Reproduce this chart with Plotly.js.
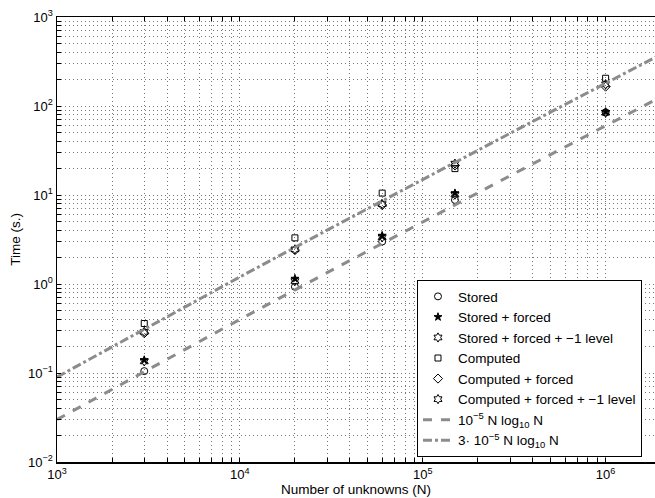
<!DOCTYPE html>
<html>
<head>
<meta charset="utf-8">
<script src="https://cdn.plot.ly/plotly-3.0.1.min.js"></script>
<style>html,body{margin:0;padding:0;background:#fff;}#chart{width:655px;height:498px;}</style>
</head>
<body>
<div id="chart"></div>
<script>
// Data
var N = [3000, 20000, 60000, 150000, 1000000];
var stored = [0.105, 0.93, 3.0, 8.8, 85];
var storedForced = [0.14, 1.15, 3.5, 10.5, 86];
var storedForcedLevel = [0.135, 1.08, 3.35, 10.1, 84];
var computed = [0.36, 3.3, 10.5, 19.8, 205];
var computedForced = [0.28, 2.4, 7.7, 21.5, 165];
var computedForcedLevel = [0.29, 2.45, 7.9, 22.5, 175];

// Reference curves (values of 1e-5 N log10 N and 3e-5 N log10 N)
var lineN = [1000, 3000, 10000, 30000, 100000, 300000, 1000000, 2000000];
var lowerLine = [0.03, 0.104, 0.4, 1.343, 5.0, 16.43, 60.0, 126.0];
var upperLine = [0.09, 0.313, 1.2, 4.03, 15.0, 49.3, 180.0, 378.0];

var seriesNames = ["Stored", "Stored + forced", "Stored + forced + \u22121 level",
  "Computed", "Computed + forced", "Computed + forced + \u22121 level",
  "10<sup>\u22125</sup> N log<sub>10</sub> N", "3\u00b7 10<sup>\u22125</sup> N log<sub>10</sub> N"];

var xDecades = [3, 4, 5, 6];
var yDecades = [-2, -1, 0, 1, 2, 3];

function logTicks(decs, maxv) {
  var vals = [], txt = [];
  decs.forEach(function (d) {
    for (var m = 1; m <= 9; m++) {
      var v = m * Math.pow(10, d);
      if (v > maxv) break;
      vals.push(v);
      txt.push(m === 1 ? "10<sup>" + (d < 0 ? "\u2212" + (-d) : d) + "</sup>" : "");
    }
  });
  return {vals: vals, txt: txt};
}
var xt = logTicks(xDecades, 2e6);
var yt = logTicks(yDecades, 1000);

function mk(y, name, symbol, size) {
  return {x: N, y: y, name: name, mode: "markers", type: "scatter",
    marker: {symbol: symbol, size: size, color: "#000", line: {color: "#000", width: 1}}};
}

var traces = [
  mk(stored, seriesNames[0], "circle-open", 7),
  mk(storedForced, seriesNames[1], "star", 6),
  mk(storedForcedLevel, seriesNames[2], "hexagram-open", 7),
  mk(computed, seriesNames[3], "square-open", 6),
  mk(computedForced, seriesNames[4], "diamond-open", 7),
  mk(computedForcedLevel, seriesNames[5], "hexagram-open", 7),
  {x: lineN, y: lowerLine, name: seriesNames[6], mode: "lines", type: "scatter",
    line: {color: "#8c8c8c", width: 3, dash: "dash"}},
  {x: lineN, y: upperLine, name: seriesNames[7], mode: "lines", type: "scatter",
    line: {color: "#8c8c8c", width: 3, dash: "dashdot"}}
];

var fam = "'Liberation Sans', Arial, Helvetica, sans-serif";
var font = {family: fam, size: 13, color: "#000"};

var layout = {
  width: 655, height: 498,
  margin: {l: 57, r: 0, t: 17, b: 36, pad: 0},
  paper_bgcolor: "#fff", plot_bgcolor: "#fff",
  font: font,
  showlegend: true,
  xaxis: {
    type: "log", range: [3, 6.27],
    tickmode: "array", tickvals: xt.vals, ticktext: xt.txt,
    ticks: "inside", ticklen: 4, tickcolor: "#000", tickwidth: 1,
    showline: true, linecolor: "#000", linewidth: 1.5, mirror: "ticks",
    showgrid: true, gridcolor: "#777", gridwidth: 1, griddash: "1px,3px",
    zeroline: false, tickfont: {family: fam, size: 13, color: "#000"},
    title: {text: "Number of unknowns (N)", font: {family: fam, size: 13.5, color: "#000"}, standoff: 1}
  },
  yaxis: {
    type: "log", range: [-2, 3],
    tickmode: "array", tickvals: yt.vals, ticktext: yt.txt,
    ticks: "inside", ticklen: 4, tickcolor: "#000", tickwidth: 1,
    showline: true, linecolor: "#000", linewidth: 1.5, mirror: false,
    showgrid: true, gridcolor: "#777", gridwidth: 1, griddash: "1px,3px",
    zeroline: false, tickfont: {family: fam, size: 13, color: "#000"},
    title: {text: "Time (s.)", font: {family: fam, size: 13.5, color: "#000"}, standoff: 4}
  },
  legend: {
    x: 0.602, y: 0.011, xanchor: "left", yanchor: "bottom",
    bgcolor: "#fff", bordercolor: "#000", borderwidth: 1,
    font: {family: fam, size: 13.5, color: "#000"},
    tracegroupgap: 0, itemwidth: 30
  }
};

Plotly.newPlot("chart", traces, layout, {displayModeBar: false, staticPlot: true});
</script>
</body>
</html>
